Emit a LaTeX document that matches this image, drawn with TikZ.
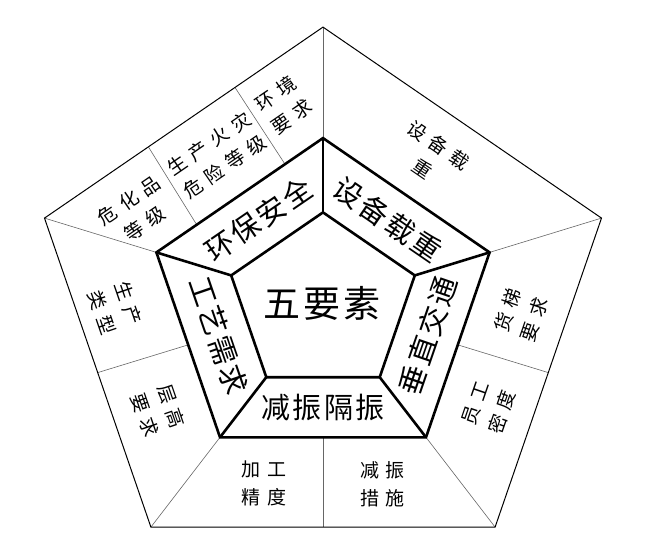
\documentclass[tikz,border=0pt]{standalone}
\usepackage{fontspec}
\usetikzlibrary{calc}
\newfontfamily\cjkcore{Noto Sans CJK SC}[LetterSpace=8]
\newfontfamily\cjkband{Noto Sans CJK SC}[LetterSpace=8]
\newfontfamily\cjkleaf{Noto Sans CJK SC}[LetterSpace=35]

\begin{document}
\begin{tikzpicture}[x=1pt, y=-1pt,
	thickline/.style={line width=2.6pt},
	outerline/.style={line width=1pt},
	divider/.style={line width=0.6pt, black!60},
	core/.style={font=\cjkcore\fontsize{37}{40}\selectfont},
	band/.style={font=\cjkband\fontsize{29}{32}\selectfont},
	leaf/.style={font=\cjkleaf\fontsize{19}{28}\selectfont, align=center}]
	  \useasboundingbox (0, 0) rectangle (646, 560);
	  % 外五边形
	  \coordinate (o0) at (323, 27.1);
	  \coordinate (o1) at (44.5, 218.1);
	  \coordinate (o2) at (150.9, 527.1);
	  \coordinate (o3) at (495.1, 527.1);
	  \coordinate (o4) at (601.5, 218.1);
	  % 中五边形
	  \coordinate (m0) at (323, 138.1);
	  \coordinate (m1) at (156.4, 252.4);
	  \coordinate (m2) at (220.0, 437.3);
	  \coordinate (m3) at (426.0, 437.3);
	  \coordinate (m4) at (489.6, 252.4);
	  % 内五边形
	  \coordinate (i0) at (323, 212.4);
	  \coordinate (i1) at (231.2, 275.4);
	  \coordinate (i2) at (266.3, 377.2);
	  \coordinate (i3) at (379.7, 377.2);
	  \coordinate (i4) at (414.8, 275.4);
	  % 分隔线
	  \draw[divider] (m0) -- (o0);
	  \draw[divider] (m1) -- (o1);
	  \draw[divider] (m2) -- (o2);
	  \draw[divider] (m3) -- (o3);
	  \draw[divider] (m4) -- (o4);
	  \draw[divider] ($(m1)!0.5!(m2)$) -- ($(o1)!0.5!(o2)$);
	  \draw[divider] ($(m2)!0.5!(m3)$) -- ($(o2)!0.5!(o3)$);
	  \draw[divider] ($(m3)!0.5!(m4)$) -- ($(o3)!0.5!(o4)$);
	  \draw[divider] ($(m1)!0.242!(m0)$) -- ($(o1)!0.373!(o0)$);
	  \draw[divider] ($(m1)!0.772!(m0)$) -- ($(o1)!0.684!(o0)$);
	  \draw[outerline] (o0) -- (o1) -- (o2) -- (o3) -- (o4) -- cycle;
	  % 粗框
	  \draw[thickline] (m0) -- (m1) -- (m2) -- (m3) -- (m4) -- cycle;
	  \draw[thickline] (i0) -- (i1) -- (i2) -- (i3) -- (i4) -- cycle;
	  \draw[thickline] (m0) -- (i0);
	  \draw[thickline] (m1) -- (i1);
	  \draw[thickline] (m2) -- (i2);
	  \draw[thickline] (m3) -- (i3);
	  \draw[thickline] (m4) -- (i4);
	  % 中心
	  \node[core] (n-core) at (322, 303.5) {五要素};
	  % 五要素
	  \node[band, rotate=34.45] (n-env) at (258.4, 219.6) {环保安全};
	  \node[band, rotate=-34.45] (n-load) at (387.6, 219.6) {设备载重};
	  \node[band, rotate=-71] (n-proc) at (218.5, 335.6) {工艺需求};
	  \node[band, rotate=71] (n-vert) at (427.5, 335.6) {垂直交通};
	  \node[band] (n-damp) at (323, 407.2) {减振隔振};
	  % 外圈说明文字
	  \node[leaf, rotate=34.45] (n-haz) at (136.8, 212.2) {危化品\\等级};
	  \node[leaf, rotate=34.45] (n-fire) at (217, 155) {生产火灾\\危险等级};
	  \node[leaf, rotate=34.45] (n-envreq) at (284, 105) {环境\\要求};
	  \node[leaf, rotate=-34.45] (n-loadreq) at (430.4, 156.6) {设备载\\重};
	  \node[leaf, rotate=71] (n-lift) at (521, 315) {货梯\\要求};
	  \node[leaf, rotate=71] (n-staff) at (489, 408) {员工\\密度};
	  \node[leaf] (n-measure) at (382.5, 484) {减振\\措施};
	  \node[leaf] (n-precision) at (264, 483.5) {加工\\精度};
	  \node[leaf, rotate=-71] (n-floor) at (158, 410.5) {层高\\要求};
	  \node[leaf, rotate=-71] (n-type) at (115, 308) {生产\\类型};
	\end{tikzpicture}
\end{document}
